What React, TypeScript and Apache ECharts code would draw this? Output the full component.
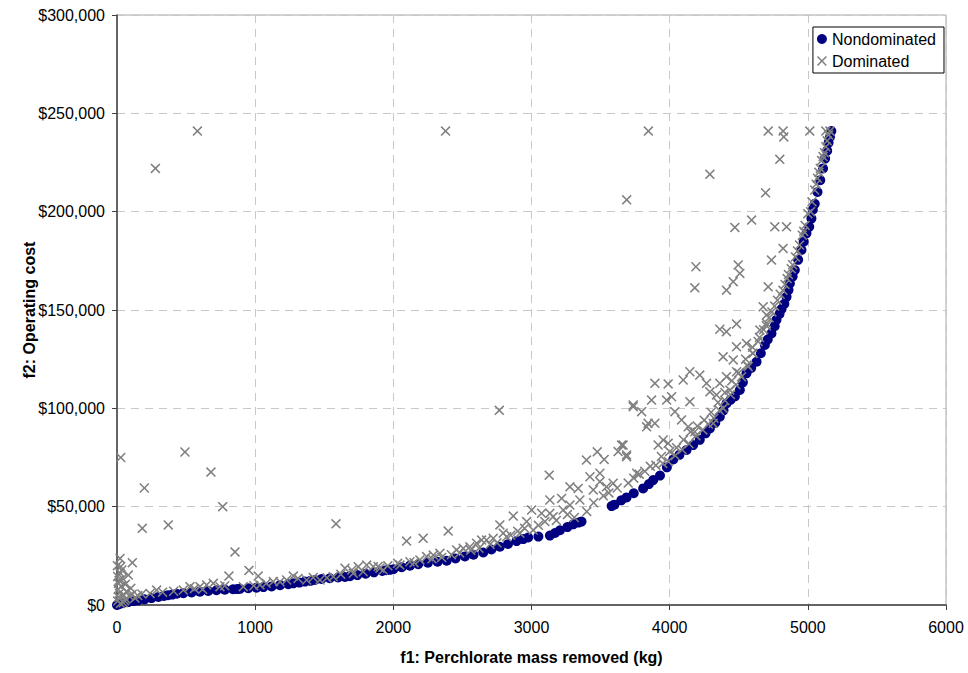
import React, { useEffect, useRef } from "react";
import * as echarts from "echarts";

const legendNames = ["Nondominated", "Dominated"];
const xTicks = { min: 0, max: 6000, interval: 1000 };
const yTicks = { min: 0, max: 300000, interval: 50000 };

// Nondominated solutions [f1 kg, f2 $]
const nondominated: number[][] = [
  [0, 0], [15, 400], [40, 900], [80, 1500], [120, 2000], [152, 2300], [200, 2900], [250, 3500],
  [300, 4100], [340, 4600], [369, 5000], [400, 5300], [432, 5700], [480, 6000], [540, 6400],
  [600, 6800], [660, 7100], [720, 7500], [780, 7800], [840, 8000], [870, 8100], [890, 8200],
  [950, 8500], [1010, 8800], [1060, 9100], [1119, 9400], [1180, 10100], [1240, 10600],
  [1276, 11000], [1320, 11400], [1360, 11900], [1400, 12300], [1433, 12700], [1480, 13200],
  [1540, 13600], [1600, 14000], [1650, 14300], [1686, 14600], [1740, 15200], [1800, 15900],
  [1860, 16600], [1920, 17300], [1950, 17700], [1975, 17900], [2000, 18200], [2060, 19200],
  [2120, 20000], [2180, 20700], [2250, 21500], [2320, 22000], [2386, 22500], [2450, 23700],
  [2518, 24700], [2580, 25600], [2651, 26700], [2710, 28200], [2771, 29600], [2830, 31000],
  [2892, 32500], [2940, 33500], [2976, 34300], [3050, 34800], [3133, 35300], [3170, 36600],
  [3206, 38000], [3260, 39600], [3302, 41000], [3340, 41900], [3362, 42400], [3580, 50300],
  [3600, 51000], [3650, 53200], [3688, 54700], [3740, 56800], [3808, 59300], [3850, 61500],
  [3881, 63500], [3930, 65800], [3980, 70000], [4026, 74000], [4070, 76300], [4122, 78800],
  [4170, 81300], [4218, 84000], [4260, 87300], [4291, 89800], [4330, 92700], [4363, 95700],
  [4390, 99000], [4411, 102500], [4440, 104300], [4472, 106000], [4508, 109300], [4530, 113200],
  [4556, 117800], [4590, 120500], [4629, 123700], [4660, 128000], [4689, 132200], [4710, 135000],
  [4737, 138100], [4760, 141800], [4773, 145000], [4795, 148000], [4810, 150500], [4830, 153200],
  [4846, 156700], [4860, 160200], [4870, 163500], [4890, 167000], [4906, 170300], [4930, 175500],
  [4954, 180500], [4970, 184700], [4990, 189000], [5010, 192300], [5026, 196500], [5036, 201000],
  [5050, 204000], [5070, 210000], [5090, 216000], [5110, 222000], [5125, 227000], [5140, 231000],
  [5150, 235000], [5160, 238000], [5170, 241000],
];

// Dominated solutions [f1 kg, f2 $]
const dominated: number[][] = [
  [278, 222000], [582, 241000], [2378, 241000], [3846, 241000], [3689, 206000], [4291, 219000],
  [2767, 99000], [27, 75000], [492, 77800], [680, 67600], [198, 59500], [765, 50000],
  [183, 39000], [371, 40700], [854, 27000], [1585, 41300], [955, 17600], [810, 14700],
  [1022, 14700], [1276, 14700], [111, 21500], [22, 23700], [82, 15200], [27, 19500],
  [10, 11000], [1650, 18700], [1746, 19500], [1807, 20300], [1855, 19500], [1903, 18700],
  [2031, 21200],
  [5, 2000], [12, 4000], [18, 6000], [8, 8000], [30, 9500], [15, 12500], [40, 13500],
  [20, 16500], [50, 5000], [65, 3000], [90, 4500], [110, 5500], [130, 3500], [45, 1200],
  [25, 800], [60, 10500], [35, 17800], [70, 7000], [100, 8500], [5, 14500], [3, 20000],
  [55, 2200], [150, 4800], [180, 5600],
  [239, 5900], [287, 7600], [480, 7600], [528, 9300], [600, 9300], [649, 10200], [697, 11000],
  [745, 9300], [914, 9300], [1035, 10200], [1131, 11900], [1228, 12700], [1373, 12700],
  [1469, 12700], [1565, 14400], [1710, 16100], [1782, 16900], [1927, 17800], [330, 6500],
  [410, 7000], [560, 8300], [620, 8000], [780, 9800], [990, 9800], [1080, 11000], [1180, 11800],
  [1310, 13500], [1420, 14000], [1520, 13800], [1620, 15600], [1700, 17800], [1890, 19600],
  [1960, 19900],
  [2048, 20300], [2096, 32500], [2120, 22000], [2192, 22900], [2216, 33900], [2241, 24600],
  [2289, 25400], [2337, 26300], [2397, 37600], [2458, 28000], [2506, 28800], [2554, 29600],
  [2603, 31400], [2639, 33000], [2675, 33000], [2723, 33900], [2771, 40700], [2795, 36500],
  [2820, 34700], [2868, 45200], [2916, 36500], [2965, 42400], [2150, 21500], [2280, 23500],
  [2350, 24200], [2420, 25600], [2480, 26500], [2560, 27800], [2620, 28900], [2700, 30800],
  [2750, 31600], [2850, 35500], [2900, 37500], [2950, 39000],
  [3001, 48300], [3012, 38100], [3073, 46600], [3097, 42400], [3128, 66000], [3133, 53400],
  [3133, 46600], [3157, 44900], [3218, 54200], [3229, 48300], [3278, 60100], [3278, 50800],
  [3338, 59300], [3350, 53400], [3398, 73700], [3423, 65200], [3447, 58500], [3476, 77900],
  [3495, 67000], [3495, 62700], [3526, 74000], [3543, 60100], [3591, 61900], [3627, 78000],
  [3652, 81300], [3663, 81300], [3688, 75400], [3688, 76300], [3736, 100800], [3736, 101700],
  [3761, 67000], [3797, 98300], [3833, 90600], [3844, 92400], [3869, 104200], [3893, 92400],
  [3893, 112700], [3917, 81300], [3953, 83900], [3978, 104200], [3989, 112400], [3989, 82200],
  [3050, 40500], [3180, 43000], [3260, 46000], [3310, 44500], [3400, 47500], [3450, 52000],
  [3520, 55500], [3560, 57000], [3620, 59500], [3700, 62000], [3740, 64500], [3780, 66500],
  [3820, 68000], [3860, 70500], [3900, 71000], [3940, 75500],
  [4014, 105900], [4038, 98300], [4086, 94100], [4098, 114400], [4134, 90600], [4146, 118600],
  [4146, 103400], [4182, 88100], [4182, 161300], [4190, 172000], [4218, 116900], [4267, 112700],
  [4291, 108400], [4315, 92400], [4339, 106800], [4363, 112700], [4363, 140200], [4387, 126200],
  [4387, 100000], [4411, 139000], [4411, 160100], [4411, 116100], [4436, 109300], [4460, 164400],
  [4460, 124600], [4472, 192000], [4484, 142900], [4484, 131300], [4484, 118600], [4496, 172900],
  [4508, 168600], [4556, 133000], [4568, 121200], [4593, 195700], [4604, 128000], [4653, 139800],
  [4677, 151600], [4701, 147400], [4701, 143200], [4713, 161800], [4713, 241000], [4694, 209600],
  [4737, 175400], [4761, 192300], [4797, 226600], [4821, 181300], [4821, 241000], [4826, 238000],
  [4846, 192300], [5014, 241000],
  [3950, 72000], [4000, 78000], [4050, 80000], [4100, 84000], [4150, 88000], [4200, 91000],
  [4250, 94000], [4300, 98000], [4350, 103000], [4400, 108000], [4450, 114000], [4500, 118000],
  [4550, 125000], [4600, 131000], [4650, 136000], [4700, 142000], [4740, 149000], [4780, 155000],
  [4820, 160000], [4850, 166000], [4880, 171000], [4910, 177000], [4940, 183000], [4960, 188000],
  [4980, 193000], [5000, 199000], [5030, 205000], [5050, 211000], [5070, 217000], [5090, 222000],
  [5110, 228000], [5130, 233000], [5150, 239000], [5140, 236000], [5100, 226000], [5060, 214000],
  [5020, 200000], [4970, 190000], [4925, 180000], [4890, 173000], [4860, 168000], [4835, 163000],
  [4800, 158000], [4760, 152000], [4720, 146000], [4680, 140000], [4640, 134000], [4600, 128000],
  [4560, 122000], [4520, 116000], [4480, 112000], [4440, 107000], [4400, 104000], [4360, 99000],
  [4320, 95000], [4280, 92000], [4240, 89000], [4190, 86000], [4140, 82000], [4090, 79000],
  [4040, 76000], [3990, 73000], [5130, 241000], [5160, 241000], [5120, 230000], [5080, 220000],
];

const crossPath =
  "path://M0,1.1L1.1,0L5,3.9L8.9,0L10,1.1L6.1,5L10,8.9L8.9,10L5,6.1L1.1,10L0,8.9L3.9,5Z";

const FONT = "'Liberation Sans', Arial, sans-serif";

export default function App() {
  const ref = useRef<HTMLDivElement>(null);
  useEffect(() => {
    if (!ref.current) return;
    const chart = echarts.init(ref.current, null, { renderer: "svg" });
    chart.setOption({
      animation: false,
      backgroundColor: "#ffffff",
      textStyle: { fontFamily: FONT },
      grid: {
        left: 117,
        right: 22,
        top: 15,
        bottom: 68,
        show: true,
        borderColor: "#a6a6a6",
        borderWidth: 1,
      },
      legend: {
        data: [
          { name: legendNames[0], icon: "circle" },
          { name: legendNames[1], icon: crossPath },
        ],
        orient: "vertical",
        right: 24,
        top: 27,
        itemWidth: 10,
        itemHeight: 10,
        itemGap: 6,
        padding: [4, 8, 4, 4],
        borderColor: "#000000",
        borderWidth: 1,
        backgroundColor: "#ffffff",
        textStyle: { fontSize: 16, color: "#000", fontFamily: FONT },
      },
      xAxis: {
        type: "value",
        min: xTicks.min,
        max: xTicks.max,
        interval: xTicks.interval,
        name: "f1: Perchlorate mass removed (kg)",
        nameLocation: "middle",
        nameGap: 44,
        nameMoveOverlap: false,
        nameTextStyle: { fontSize: 16, fontWeight: "bold", color: "#000", fontFamily: FONT },
        axisLine: { show: true, lineStyle: { color: "#404040", width: 1.5 } },
        axisTick: { show: true, inside: false, length: 5, lineStyle: { color: "#404040" } },
        axisLabel: {
          fontSize: 16,
          color: "#000",
          margin: 14,
          fontFamily: FONT,
          formatter: (v: number) => String(v),
        },
        splitLine: { show: true, lineStyle: { color: "#c8c8c8", type: [8, 6], width: 1 } },
      },
      yAxis: {
        type: "value",
        min: yTicks.min,
        max: yTicks.max,
        interval: yTicks.interval,
        name: "f2: Operating cost",
        nameLocation: "middle",
        nameGap: 80,
        nameMoveOverlap: false,
        nameTextStyle: { fontSize: 16, fontWeight: "bold", color: "#000", fontFamily: FONT },
        axisLine: { show: true, lineStyle: { color: "#404040", width: 1.5 } },
        axisTick: { show: true, inside: false, length: 5, lineStyle: { color: "#404040" } },
        axisLabel: {
          fontSize: 16,
          color: "#000",
          margin: 12,
          fontFamily: FONT,
          formatter: (v: number) => "$" + v.toLocaleString("en-US"),
        },
        splitLine: { show: true, lineStyle: { color: "#c8c8c8", type: [8, 6], width: 1 } },
      },
      series: [
        {
          name: legendNames[0],
          type: "scatter",
          data: nondominated,
          symbol: "circle",
          symbolSize: 10,
          itemStyle: { color: "#000080", opacity: 1 },
        },
        {
          name: legendNames[1],
          type: "scatter",
          data: dominated,
          symbol: crossPath,
          symbolSize: 10,
          itemStyle: { color: "#808080", opacity: 1 },
        },
      ],
    });
    return () => chart.dispose();
  }, []);
  return (
    <div
      ref={ref}
      style={{ position: "absolute", left: 0, top: 0, width: 968, height: 673 }}
    />
  );
}
